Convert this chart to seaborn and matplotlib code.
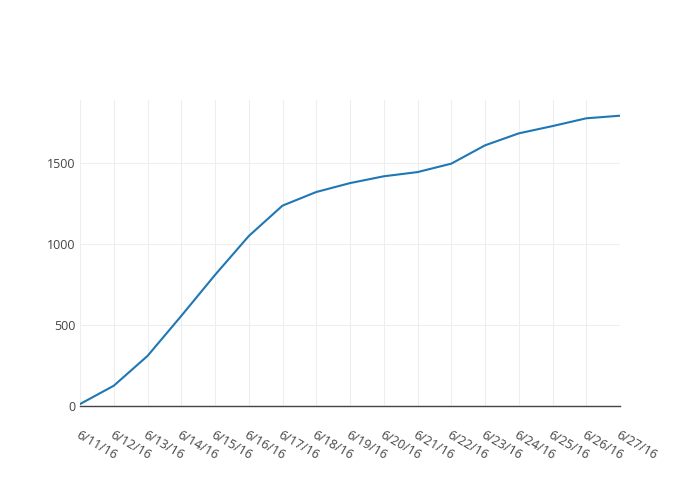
import pandas as pd
import numpy as np
import matplotlib
matplotlib.use("Agg")
import matplotlib.pyplot as plt
import seaborn as sns

dates = ["2016-06-11", "2016-06-12", "2016-06-13", "2016-06-14", "2016-06-15",
         "2016-06-16", "2016-06-17", "2016-06-18", "2016-06-19", "2016-06-20",
         "2016-06-21", "2016-06-22", "2016-06-23", "2016-06-24", "2016-06-25",
         "2016-06-26", "2016-06-27"]
values = [12, 125, 309, 556, 809, 1049, 1237, 1321, 1376, 1418,
          1444, 1496, 1609, 1683, 1728, 1776, 1792]
y_ticks = [0, 500, 1000, 1500]

df = pd.DataFrame({"date": pd.to_datetime(dates), "value": values})

sns.set_theme(style="white")
plt.rcParams["font.family"] = ["Open Sans", "DejaVu Sans"]

fig = plt.figure(figsize=(7, 5), dpi=100)
ax = fig.add_axes([80 / 700, 94 / 500, 540 / 700, 306 / 500])

sns.lineplot(data=df, x="date", y="value", ax=ax, color="#1f77b4", linewidth=1.5)

ax.set_xlim(df["date"].iloc[0], df["date"].iloc[-1])
ax.set_ylim(0, 1889)
ax.set_xticks(df["date"])
ax.set_xticklabels([d.strftime("%-m/%-d/%y") for d in df["date"]])
ax.set_yticks(y_ticks)
ax.set_yticklabels([str(t) for t in y_ticks])

ax.grid(True, color="#eeeeee", linewidth=0.8)
ax.set_axisbelow(True)
for side in ["top", "right", "left"]:
    ax.spines[side].set_visible(False)
ax.spines["bottom"].set_color("#444444")
ax.spines["bottom"].set_linewidth(1)
ax.spines["bottom"].set_zorder(3)

ax.tick_params(axis="both", length=0, labelsize=9, colors="#444444")
ax.tick_params(axis="y", pad=3)
ax.tick_params(axis="x", pad=16)
for lbl in ax.get_xticklabels():
    lbl.set_rotation(-30)
    lbl.set_ha("left")
    lbl.set_va("top")
    lbl.set_rotation_mode("anchor")

ax.set_xlabel("")
ax.set_ylabel("")

fig.savefig("out.png", dpi=100)
